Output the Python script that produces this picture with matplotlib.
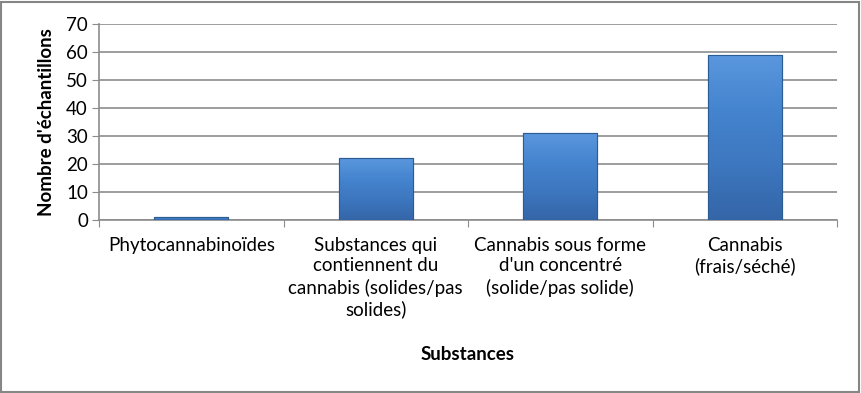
import matplotlib
matplotlib.use("Agg")
import matplotlib.pyplot as plt
import numpy as np
from matplotlib.patches import Rectangle
from matplotlib.colors import LinearSegmentedColormap

categories = ["Phytocannabinoïdes",
              "Substances qui\ncontiennent du\ncannabis (solides/pas\nsolides)",
              "Cannabis sous forme\nd'un concentré\n(solide/pas solide)",
              "Cannabis\n(frais/séché)"]
values = [1, 22, 31, 59]
yticks = [0, 10, 20, 30, 40, 50, 60, 70]

plt.rcParams['font.family'] = ['Lato', 'DejaVu Sans']
FS = 13.5

fig = plt.figure(figsize=(8.61, 3.93), dpi=100)
ax = fig.add_axes([99/861, 1-220/393, (837-99)/861, (220-24)/393])

x = np.arange(len(categories))
bars = ax.bar(x, values, width=0.4, color="#3F7BC4", edgecolor="#2B5C94", linewidth=0.8, zorder=3)

grad = np.linspace(0, 1, 256).reshape(-1, 1)
cmap = LinearSegmentedColormap.from_list("b", ["#3465A8", "#3D77BF", "#4584CF", "#5A97DD"])
for b in bars:
    x0, y0, w, h = b.get_x(), b.get_y(), b.get_width(), b.get_height()
    im = ax.imshow(grad, extent=[x0, x0 + w, y0, y0 + h], aspect='auto', cmap=cmap,
                   origin='lower', zorder=3.5)
    im.set_clip_path(b)
    ax.add_patch(Rectangle((x0, y0), w, h, fill=False, edgecolor="#2B5C94", linewidth=0.8, zorder=4))

ax.set_xlim(-0.5, len(categories) - 0.5)
ax.set_ylim(0, 70)
ax.set_yticks(yticks)
ax.set_yticklabels([str(v) for v in yticks], fontsize=FS)
ax.yaxis.grid(True, color="#8C8C8C", linewidth=1.2, zorder=0)
ax.set_axisbelow(True)

ax.set_xticks(np.arange(-0.5, len(categories), 1.0))
ax.set_xticklabels([])
ax.set_xticks(x, minor=True)
ax.set_xticklabels(categories, minor=True, fontsize=FS, linespacing=1.27, va='top')
ax.tick_params(axis='x', which='minor', length=0, pad=12)
ax.tick_params(axis='x', which='major', length=5, color="#8C8C8C", direction='out')
ax.tick_params(axis='y', length=5, color="#8C8C8C", direction='out', pad=3)

for s in ['top', 'right']:
    ax.spines[s].set_visible(False)
for s in ['left', 'bottom']:
    ax.spines[s].set_color("#8C8C8C")
    ax.spines[s].set_linewidth(1.2)

ax.set_ylabel("Nombre d'échantillons", fontsize=FS, fontweight='bold', labelpad=8)
fig.text((99 + 837) / 2 / 861, 1 - 354 / 393, "Substances", ha='center', va='center',
         fontsize=FS, fontweight='bold')

fig.patches.append(Rectangle((1/861, 1/393), 1 - 3/861, 1 - 3/393, transform=fig.transFigure,
                             fill=False, edgecolor="#868686", linewidth=1.5))

fig.savefig("out.png", dpi=100)
